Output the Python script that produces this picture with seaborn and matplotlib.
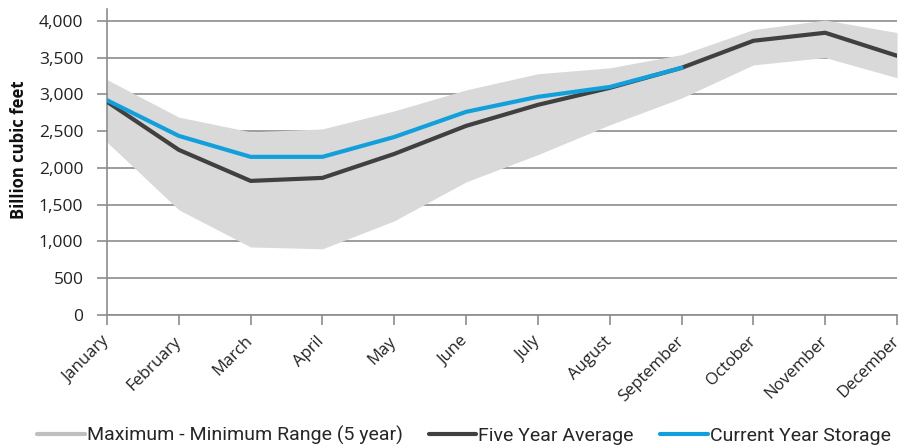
import matplotlib
matplotlib.use("Agg")
import matplotlib.pyplot as plt
import matplotlib.transforms as mtransforms
from matplotlib.lines import Line2D
import seaborn as sns
import numpy as np
import pandas as pd

months = ["January", "February", "March", "April", "May", "June", "July",
          "August", "September", "October", "November", "December"]
range_max = [3200, 2690, 2490, 2530, 2775, 3060, 3280, 3360, 3540, 3880, 4010, 3840]
range_min = [2350, 1430, 925, 900, 1280, 1810, 2180, 2585, 2950, 3400, 3500, 3225]
five_year_avg = [2900, 2245, 1823, 1864, 2190, 2571, 2857, 3088, 3360, 3728, 3837, 3524]
current_year = [2920, 2435, 2150, 2150, 2420, 2762, 2966, 3100, 3360]
yticks = [0, 500, 1000, 1500, 2000, 2500, 3000, 3500, 4000]

sns.set_theme(style="white")
plt.rcParams['font.family'] = ['Open Sans', 'DejaVu Sans']

fig = plt.figure(figsize=(9.06, 4.48), dpi=100)
ax = fig.add_axes([0.1181, 0.2969, 0.8720, 0.683])

x = np.arange(len(months))
df_avg = pd.DataFrame({"x": x, "v": five_year_avg})
df_cur = pd.DataFrame({"x": x[:len(current_year)], "v": current_year})

ax.fill_between(x, range_min, range_max, color="#d9d9d9", linewidth=0, zorder=1)
sns.lineplot(data=df_avg, x="x", y="v", ax=ax, color="#404040", linewidth=3, zorder=3)
sns.lineplot(data=df_cur, x="x", y="v", ax=ax, color="#12a0dc", linewidth=3, zorder=4)

ax.set_xlim(0, len(months) - 1)
ax.set_ylim(0, 4160)
ax.yaxis.grid(True, color="#8c8c8c", linewidth=1.2, zorder=0)
ax.xaxis.grid(False)
ax.set_axisbelow(True)
for s in ["top", "right"]:
    ax.spines[s].set_visible(False)
for s in ["left", "bottom"]:
    ax.spines[s].set_color("#8c8c8c")
    ax.spines[s].set_linewidth(1.2)
ax.tick_params(axis="both", which="both", direction="out", length=7, width=1.2,
               color="#8c8c8c", left=True, bottom=True)
ax.tick_params(axis="y", pad=10)
ax.tick_params(axis="x", pad=4)

ax.set_yticks(yticks)
ax.set_yticklabels([f"{v:,}" for v in yticks], fontsize=12.5, color="#222222")
ax.set_xticks(x)
ax.set_xticklabels(months, rotation=45, ha="right", rotation_mode="anchor",
                   fontsize=12, color="#222222")
off = mtransforms.ScaledTranslation(-0.06, -0.03, fig.dpi_scale_trans)
for lab in ax.get_xticklabels():
    lab.set_transform(lab.get_transform() + off)

ax.set_xlabel("")
ax.set_ylabel("Billion cubic feet", fontsize=12, fontweight="bold", color="#111111")
ax.yaxis.set_label_coords(-0.1, 0.54)

prop = {"family": ["Roboto", "DejaVu Sans"], "size": 14}
handles = [Line2D([], [], color="#bfbfbf", linewidth=3),
           Line2D([], [], color="#404040", linewidth=3),
           Line2D([], [], color="#12a0dc", linewidth=3)]
labels = ["Maximum - Minimum Range (5 year)", "Five Year Average", "Current Year Storage"]
fig.legend(handles, labels, loc="center", bbox_to_anchor=(0.512, 0.028), ncol=3,
           frameon=False, handlelength=2.45, handletextpad=0.1, columnspacing=1.35,
           prop=prop)

fig.savefig("out.png", dpi=100)
